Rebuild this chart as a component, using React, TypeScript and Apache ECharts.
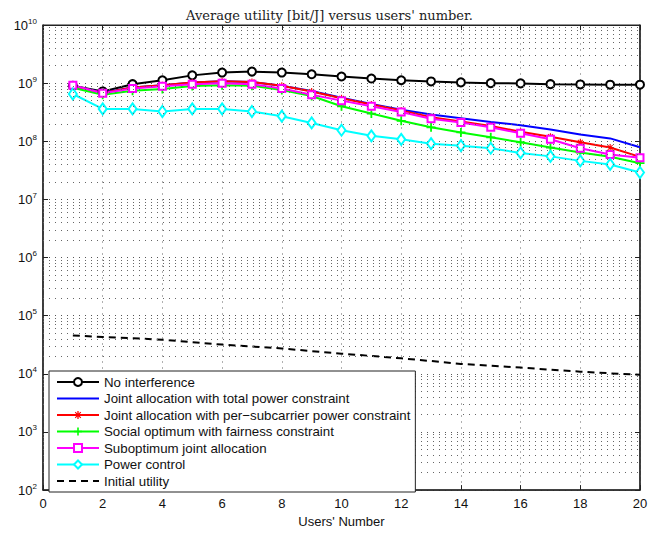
import React, { useEffect, useRef } from "react";
import * as echarts from "echarts";

// Number of users on the x axis
const users = [1, 2, 3, 4, 5, 6, 7, 8, 9, 10, 11, 12, 13, 14, 15, 16, 17, 18, 19, 20];

// Average utility [bit/J] for each scheme
const noInterference = [9.0e8, 7.2e8, 9.6e8, 1.12e9, 1.36e9, 1.52e9, 1.58e9, 1.52e9, 1.42e9, 1.3e9, 1.2e9, 1.12e9, 1.07e9, 1.03e9, 1.0e9, 0.99e9, 0.96e9, 0.95e9, 0.94e9, 0.94e9];
const totalPower = [9.0e8, 6.9e8, 8.4e8, 9.2e8, 1.03e9, 1.08e9, 1.05e9, 9.0e8, 7.3e8, 5.6e8, 4.4e8, 3.5e8, 2.9e8, 2.5e8, 2.15e8, 1.89e8, 1.6e8, 1.31e8, 1.12e8, 7.9e7];
const perSubcarrier = [9.0e8, 6.8e8, 8.4e8, 9.2e8, 1.03e9, 1.08e9, 1.05e9, 9.0e8, 7.2e8, 5.5e8, 4.3e8, 3.4e8, 2.6e8, 2.2e8, 1.83e8, 1.46e8, 1.2e8, 9.6e7, 7.8e7, 5.4e7];
const fairness = [8.3e8, 6.3e8, 7.4e8, 7.9e8, 8.9e8, 9.2e8, 9.0e8, 7.6e8, 6.0e8, 4.0e8, 3.0e8, 2.25e8, 1.74e8, 1.42e8, 1.17e8, 9.6e7, 7.8e7, 6.4e7, 5.4e7, 4.2e7];
const suboptimum = [9.2e8, 6.7e8, 8.1e8, 8.8e8, 9.6e8, 1.0e9, 9.6e8, 8.1e8, 6.3e8, 5.0e8, 4.0e8, 3.2e8, 2.45e8, 2.1e8, 1.74e8, 1.37e8, 1.08e8, 7.6e7, 5.9e7, 5.2e7];
const powerControl = [6.5e8, 3.6e8, 3.6e8, 3.25e8, 3.6e8, 3.6e8, 3.25e8, 2.7e8, 2.07e8, 1.55e8, 1.24e8, 1.08e8, 9.1e7, 8.4e7, 7.6e7, 6.3e7, 5.5e7, 4.6e7, 4.0e7, 2.9e7];
const initialUtility = [4.58e4, 4.29e4, 4.1e4, 3.87e4, 3.5e4, 3.18e4, 2.95e4, 2.73e4, 2.46e4, 2.22e4, 2.03e4, 1.85e4, 1.66e4, 1.48e4, 1.38e4, 1.28e4, 1.18e4, 1.09e4, 1.02e4, 9.6e3];

const seriesNames = [
  "No interference",
  "Joint allocation with total power constraint",
  "Joint allocation with per\u2212subcarrier power constraint",
  "Social optimum with fairness constraint",
  "Suboptimum joint allocation",
  "Power control",
  "Initial utility",
];

// Axis ranges
const xMin = 0;
const xMax = 20;
const xStep = 2;
const yExpMin = 2;
const yExpMax = 10;

const SANS = "'Liberation Sans', Arial, sans-serif";

// Dotted minor grid lines at 2..9 x 10^k on the log axis
const minorGridValues: number[] = [];
for (let e = yExpMin; e < yExpMax; e++) {
  for (let m = 2; m <= 9; m++) minorGridValues.push(m * Math.pow(10, e));
}

const PLUS = "path://M4,0h2v4h4v2h-4v4h-2v-4h-4v-2h4z";
const STAR =
  "path://M4.2,0h1.6v10h-1.6z M0,4.2h10v1.6h-10z M1,2 L2,1 L9,8 L8,9z M8,1 L9,2 L2,9 L1,8z";

function pairs(ys: number[]) {
  return users.map((x, i) => [x, ys[i]]);
}

// Series drawn without markers show only their line in the legend
const plainLines = new Set([seriesNames[1], seriesNames[6]]);

export default function App() {
  const ref = useRef<HTMLDivElement>(null);

  useEffect(() => {
    if (!ref.current) return;
    const chart = echarts.init(ref.current, null, { renderer: "svg" });

    const lineBase = (name: string, data: number[], color: string) => ({
      name,
      type: "line",
      data: pairs(data),
      xAxisIndex: 0,
      yAxisIndex: 0,
      color,
      lineStyle: { color, width: 2 },
      itemStyle: { color },
      showSymbol: true,
      z: 3,
    });

    chart.setOption({
      animation: false,
      backgroundColor: "#ffffff",
      title: {
        text: "Average utility [bit/J] versus users' number.",
        left: "center",
        top: 4,
        textStyle: {
          fontFamily: "'DejaVu Serif', serif",
          fontWeight: "normal",
          fontSize: 13,
          color: "#222",
        },
      },
      grid: {
        left: 43,
        right: 19,
        top: 25,
        bottom: 37,
        show: true,
        borderColor: "#222",
        borderWidth: 1,
        backgroundColor: "#fff",
      },
      legend: {
        orient: "vertical",
        left: 49,
        top: 371,
        data: seriesNames.map((name) =>
          plainLines.has(name) ? { name, itemStyle: { opacity: 0 } } : { name }
        ),
        backgroundColor: "#fff",
        borderColor: "#222",
        borderWidth: 1,
        padding: [4, 5, 4, 7],
        itemWidth: 42,
        itemHeight: 10,
        itemGap: 2.5,
        textStyle: { fontFamily: SANS, fontSize: 13.3, color: "#111", lineHeight: 14 },
        z: 10,
      },
      xAxis: [
        {
          type: "value",
          min: xMin,
          max: xMax,
          interval: xStep,
          name: "Users' Number",
          nameLocation: "middle",
          nameGap: 24,
          nameTextStyle: { fontFamily: SANS, fontSize: 13, color: "#111" },
          axisLine: { show: true, onZero: false, lineStyle: { color: "#222", width: 1.5 } },
          axisTick: { show: true, inside: true, length: 5, lineStyle: { color: "#222" } },
          axisLabel: { fontFamily: SANS, fontSize: 13, color: "#111", margin: 7 },
          splitLine: { show: true, lineStyle: { color: "#b0b0b0", type: [2, 4], width: 1 } },
        },
        {
          type: "value",
          position: "top",
          min: xMin,
          max: xMax,
          interval: xStep,
          axisLine: { show: true, onZero: false, lineStyle: { color: "#222", width: 1 } },
          axisTick: { show: true, inside: true, length: 5, lineStyle: { color: "#222" } },
          axisLabel: { show: false },
          splitLine: { show: false },
        },
      ],
      yAxis: [
        {
          type: "log",
          logBase: 10,
          min: Math.pow(10, yExpMin),
          max: Math.pow(10, yExpMax),
          axisLine: { show: true, onZero: false, lineStyle: { color: "#222", width: 1.5 } },
          axisTick: { show: true, inside: true, length: 5, lineStyle: { color: "#222" } },
          axisLabel: {
            margin: 6,
            formatter: (v: number) => `{b|10}{s|${Math.round(Math.log10(v))}}`,
            rich: {
              b: { fontFamily: SANS, fontSize: 13, color: "#111" },
              s: { fontFamily: SANS, fontSize: 8, color: "#111", padding: [0, 0, 8, 0] },
            },
          },
          splitLine: { show: true, lineStyle: { color: "#555", type: [1, 5], width: 1 } },
        },
        {
          type: "log",
          logBase: 10,
          position: "right",
          min: Math.pow(10, yExpMin),
          max: Math.pow(10, yExpMax),
          axisLine: { show: true, onZero: false, lineStyle: { color: "#222", width: 1.5 } },
          axisTick: { show: true, inside: true, length: 5, lineStyle: { color: "#222" } },
          axisLabel: { show: false },
          splitLine: { show: false },
        },
      ],
      series: [
        {
          name: "minor-grid",
          type: "line",
          data: [],
          z: 1,
          silent: true,
          markLine: {
            silent: true,
            symbol: ["none", "none"],
            label: { show: false },
            animation: false,
            lineStyle: { color: "#666", type: [1, 5], width: 1 },
            data: minorGridValues.map((v) => ({ yAxis: v })),
          },
        },
        {
          ...lineBase(seriesNames[0], noInterference, "#000000"),
          symbol: "emptyCircle",
          symbolSize: 8,
          itemStyle: { color: "#000000", borderWidth: 2 },
        },
        {
          ...lineBase(seriesNames[1], totalPower, "#0000ff"),
          symbol: "none",
        },
        {
          ...lineBase(seriesNames[2], perSubcarrier, "#ff0000"),
          symbol: STAR,
          symbolSize: 7,
        },
        {
          ...lineBase(seriesNames[3], fairness, "#00ff00"),
          symbol: PLUS,
          symbolSize: 9,
        },
        {
          ...lineBase(seriesNames[4], suboptimum, "#ff00ff"),
          symbol: "emptyRect",
          symbolSize: 7,
          itemStyle: { color: "#ff00ff", borderWidth: 2 },
        },
        {
          ...lineBase(seriesNames[5], powerControl, "#00ffff"),
          symbol: "emptyDiamond",
          symbolSize: [8, 11],
          itemStyle: { color: "#00ffff", borderWidth: 2 },
        },
        {
          ...lineBase(seriesNames[6], initialUtility, "#000000"),
          symbol: "none",
          lineStyle: { color: "#000000", width: 2, type: [7, 5] },
        },
      ],
    });

    return () => chart.dispose();
  }, []);

  return (
    <div
      ref={ref}
      style={{ position: "fixed", left: 0, top: 0, width: 659, height: 533, background: "#fff" }}
    />
  );
}
